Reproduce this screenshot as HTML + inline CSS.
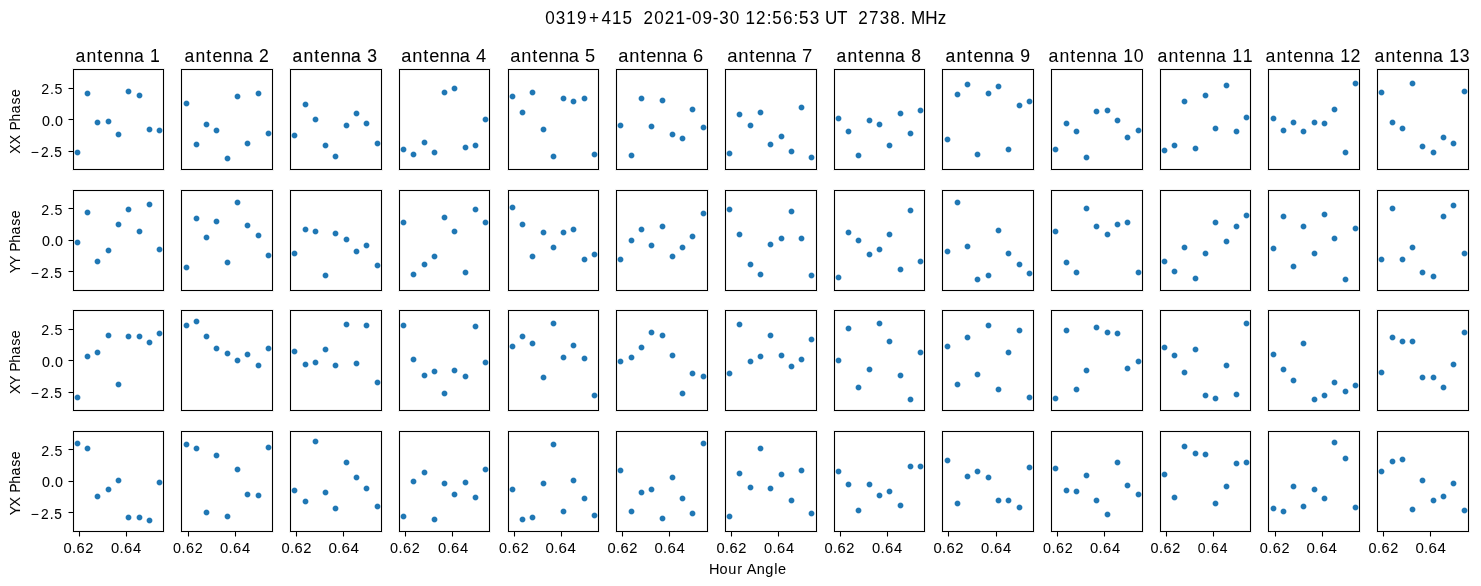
<!DOCTYPE html>
<html><head><meta charset="utf-8"><title>0319+415 phases</title><style>html,body{margin:0;padding:0;background:#fff;overflow:hidden;}svg{display:block;will-change:transform;}text{font-family:"Liberation Sans",sans-serif;fill:#000;white-space:pre;}.c{shape-rendering:crispEdges;}</style></head><body>
<svg width="1481" height="586" viewBox="0 0 1481 586">
<rect x="0" y="0" width="1481" height="586" fill="#fff"/>
<defs><g id="d" fill="#1f77b4"><rect x="-1.5" y="-2.5" width="3" height="5"/><rect x="-2.5" y="-1.5" width="1" height="3"/><rect x="1.5" y="-1.5" width="1" height="3"/><rect x="-2.5" y="-2.5" width="1" height="1" fill-opacity="0.536"/><rect x="-2.5" y="1.5" width="1" height="1" fill-opacity="0.536"/><rect x="1.5" y="-2.5" width="1" height="1" fill-opacity="0.536"/><rect x="1.5" y="1.5" width="1" height="1" fill-opacity="0.536"/><rect x="-1.5" y="-3.5" width="1" height="1" fill-opacity="0.219"/><rect x="-3.5" y="-1.5" width="1" height="1" fill-opacity="0.219"/><rect x="-1.5" y="2.5" width="1" height="1" fill-opacity="0.219"/><rect x="2.5" y="-1.5" width="1" height="1" fill-opacity="0.219"/><rect x="0.5" y="-3.5" width="1" height="1" fill-opacity="0.219"/><rect x="-3.5" y="0.5" width="1" height="1" fill-opacity="0.219"/><rect x="0.5" y="2.5" width="1" height="1" fill-opacity="0.219"/><rect x="2.5" y="0.5" width="1" height="1" fill-opacity="0.219"/><rect x="-0.5" y="-3.5" width="1" height="1" fill-opacity="0.366"/><rect x="-3.5" y="-0.5" width="1" height="1" fill-opacity="0.366"/><rect x="-0.5" y="2.5" width="1" height="1" fill-opacity="0.366"/><rect x="2.5" y="-0.5" width="1" height="1" fill-opacity="0.366"/></g></defs>
<g class="c" fill="#000" fill-opacity="0.055"><rect x="72" y="68" width="93" height="1"/><rect x="74" y="70" width="89" height="1"/><rect x="72" y="170" width="93" height="1"/><rect x="74" y="168" width="89" height="1"/><rect x="72" y="69" width="1" height="101"/><rect x="74" y="71" width="1" height="97"/><rect x="164" y="69" width="1" height="101"/><rect x="162" y="71" width="1" height="97"/><rect x="180" y="68" width="94" height="1"/><rect x="182" y="70" width="90" height="1"/><rect x="180" y="170" width="94" height="1"/><rect x="182" y="168" width="90" height="1"/><rect x="180" y="69" width="1" height="101"/><rect x="182" y="71" width="1" height="97"/><rect x="273" y="69" width="1" height="101"/><rect x="271" y="71" width="1" height="97"/><rect x="289" y="68" width="94" height="1"/><rect x="291" y="70" width="90" height="1"/><rect x="289" y="170" width="94" height="1"/><rect x="291" y="168" width="90" height="1"/><rect x="289" y="69" width="1" height="101"/><rect x="291" y="71" width="1" height="97"/><rect x="382" y="69" width="1" height="101"/><rect x="380" y="71" width="1" height="97"/><rect x="398" y="68" width="93" height="1"/><rect x="400" y="70" width="89" height="1"/><rect x="398" y="170" width="93" height="1"/><rect x="400" y="168" width="89" height="1"/><rect x="398" y="69" width="1" height="101"/><rect x="400" y="71" width="1" height="97"/><rect x="490" y="69" width="1" height="101"/><rect x="488" y="71" width="1" height="97"/><rect x="507" y="68" width="93" height="1"/><rect x="509" y="70" width="89" height="1"/><rect x="507" y="170" width="93" height="1"/><rect x="509" y="168" width="89" height="1"/><rect x="507" y="69" width="1" height="101"/><rect x="509" y="71" width="1" height="97"/><rect x="599" y="69" width="1" height="101"/><rect x="597" y="71" width="1" height="97"/><rect x="615" y="68" width="94" height="1"/><rect x="617" y="70" width="90" height="1"/><rect x="615" y="170" width="94" height="1"/><rect x="617" y="168" width="90" height="1"/><rect x="615" y="69" width="1" height="101"/><rect x="617" y="71" width="1" height="97"/><rect x="708" y="69" width="1" height="101"/><rect x="706" y="71" width="1" height="97"/><rect x="724" y="68" width="94" height="1"/><rect x="726" y="70" width="90" height="1"/><rect x="724" y="170" width="94" height="1"/><rect x="726" y="168" width="90" height="1"/><rect x="724" y="69" width="1" height="101"/><rect x="726" y="71" width="1" height="97"/><rect x="817" y="69" width="1" height="101"/><rect x="815" y="71" width="1" height="97"/><rect x="833" y="68" width="93" height="1"/><rect x="835" y="70" width="89" height="1"/><rect x="833" y="170" width="93" height="1"/><rect x="835" y="168" width="89" height="1"/><rect x="833" y="69" width="1" height="101"/><rect x="835" y="71" width="1" height="97"/><rect x="925" y="69" width="1" height="101"/><rect x="923" y="71" width="1" height="97"/><rect x="941" y="68" width="94" height="1"/><rect x="943" y="70" width="90" height="1"/><rect x="941" y="170" width="94" height="1"/><rect x="943" y="168" width="90" height="1"/><rect x="941" y="69" width="1" height="101"/><rect x="943" y="71" width="1" height="97"/><rect x="1034" y="69" width="1" height="101"/><rect x="1032" y="71" width="1" height="97"/><rect x="1050" y="68" width="94" height="1"/><rect x="1052" y="70" width="90" height="1"/><rect x="1050" y="170" width="94" height="1"/><rect x="1052" y="168" width="90" height="1"/><rect x="1050" y="69" width="1" height="101"/><rect x="1052" y="71" width="1" height="97"/><rect x="1143" y="69" width="1" height="101"/><rect x="1141" y="71" width="1" height="97"/><rect x="1159" y="68" width="93" height="1"/><rect x="1161" y="70" width="89" height="1"/><rect x="1159" y="170" width="93" height="1"/><rect x="1161" y="168" width="89" height="1"/><rect x="1159" y="69" width="1" height="101"/><rect x="1161" y="71" width="1" height="97"/><rect x="1251" y="69" width="1" height="101"/><rect x="1249" y="71" width="1" height="97"/><rect x="1267" y="68" width="94" height="1"/><rect x="1269" y="70" width="90" height="1"/><rect x="1267" y="170" width="94" height="1"/><rect x="1269" y="168" width="90" height="1"/><rect x="1267" y="69" width="1" height="101"/><rect x="1269" y="71" width="1" height="97"/><rect x="1360" y="69" width="1" height="101"/><rect x="1358" y="71" width="1" height="97"/><rect x="1376" y="68" width="94" height="1"/><rect x="1378" y="70" width="90" height="1"/><rect x="1376" y="170" width="94" height="1"/><rect x="1378" y="168" width="90" height="1"/><rect x="1376" y="69" width="1" height="101"/><rect x="1378" y="71" width="1" height="97"/><rect x="1469" y="69" width="1" height="101"/><rect x="1467" y="71" width="1" height="97"/><rect x="72" y="189" width="93" height="1"/><rect x="74" y="191" width="89" height="1"/><rect x="72" y="291" width="93" height="1"/><rect x="74" y="289" width="89" height="1"/><rect x="72" y="190" width="1" height="101"/><rect x="74" y="192" width="1" height="97"/><rect x="164" y="190" width="1" height="101"/><rect x="162" y="192" width="1" height="97"/><rect x="180" y="189" width="94" height="1"/><rect x="182" y="191" width="90" height="1"/><rect x="180" y="291" width="94" height="1"/><rect x="182" y="289" width="90" height="1"/><rect x="180" y="190" width="1" height="101"/><rect x="182" y="192" width="1" height="97"/><rect x="273" y="190" width="1" height="101"/><rect x="271" y="192" width="1" height="97"/><rect x="289" y="189" width="94" height="1"/><rect x="291" y="191" width="90" height="1"/><rect x="289" y="291" width="94" height="1"/><rect x="291" y="289" width="90" height="1"/><rect x="289" y="190" width="1" height="101"/><rect x="291" y="192" width="1" height="97"/><rect x="382" y="190" width="1" height="101"/><rect x="380" y="192" width="1" height="97"/><rect x="398" y="189" width="93" height="1"/><rect x="400" y="191" width="89" height="1"/><rect x="398" y="291" width="93" height="1"/><rect x="400" y="289" width="89" height="1"/><rect x="398" y="190" width="1" height="101"/><rect x="400" y="192" width="1" height="97"/><rect x="490" y="190" width="1" height="101"/><rect x="488" y="192" width="1" height="97"/><rect x="507" y="189" width="93" height="1"/><rect x="509" y="191" width="89" height="1"/><rect x="507" y="291" width="93" height="1"/><rect x="509" y="289" width="89" height="1"/><rect x="507" y="190" width="1" height="101"/><rect x="509" y="192" width="1" height="97"/><rect x="599" y="190" width="1" height="101"/><rect x="597" y="192" width="1" height="97"/><rect x="615" y="189" width="94" height="1"/><rect x="617" y="191" width="90" height="1"/><rect x="615" y="291" width="94" height="1"/><rect x="617" y="289" width="90" height="1"/><rect x="615" y="190" width="1" height="101"/><rect x="617" y="192" width="1" height="97"/><rect x="708" y="190" width="1" height="101"/><rect x="706" y="192" width="1" height="97"/><rect x="724" y="189" width="94" height="1"/><rect x="726" y="191" width="90" height="1"/><rect x="724" y="291" width="94" height="1"/><rect x="726" y="289" width="90" height="1"/><rect x="724" y="190" width="1" height="101"/><rect x="726" y="192" width="1" height="97"/><rect x="817" y="190" width="1" height="101"/><rect x="815" y="192" width="1" height="97"/><rect x="833" y="189" width="93" height="1"/><rect x="835" y="191" width="89" height="1"/><rect x="833" y="291" width="93" height="1"/><rect x="835" y="289" width="89" height="1"/><rect x="833" y="190" width="1" height="101"/><rect x="835" y="192" width="1" height="97"/><rect x="925" y="190" width="1" height="101"/><rect x="923" y="192" width="1" height="97"/><rect x="941" y="189" width="94" height="1"/><rect x="943" y="191" width="90" height="1"/><rect x="941" y="291" width="94" height="1"/><rect x="943" y="289" width="90" height="1"/><rect x="941" y="190" width="1" height="101"/><rect x="943" y="192" width="1" height="97"/><rect x="1034" y="190" width="1" height="101"/><rect x="1032" y="192" width="1" height="97"/><rect x="1050" y="189" width="94" height="1"/><rect x="1052" y="191" width="90" height="1"/><rect x="1050" y="291" width="94" height="1"/><rect x="1052" y="289" width="90" height="1"/><rect x="1050" y="190" width="1" height="101"/><rect x="1052" y="192" width="1" height="97"/><rect x="1143" y="190" width="1" height="101"/><rect x="1141" y="192" width="1" height="97"/><rect x="1159" y="189" width="93" height="1"/><rect x="1161" y="191" width="89" height="1"/><rect x="1159" y="291" width="93" height="1"/><rect x="1161" y="289" width="89" height="1"/><rect x="1159" y="190" width="1" height="101"/><rect x="1161" y="192" width="1" height="97"/><rect x="1251" y="190" width="1" height="101"/><rect x="1249" y="192" width="1" height="97"/><rect x="1267" y="189" width="94" height="1"/><rect x="1269" y="191" width="90" height="1"/><rect x="1267" y="291" width="94" height="1"/><rect x="1269" y="289" width="90" height="1"/><rect x="1267" y="190" width="1" height="101"/><rect x="1269" y="192" width="1" height="97"/><rect x="1360" y="190" width="1" height="101"/><rect x="1358" y="192" width="1" height="97"/><rect x="1376" y="189" width="94" height="1"/><rect x="1378" y="191" width="90" height="1"/><rect x="1376" y="291" width="94" height="1"/><rect x="1378" y="289" width="90" height="1"/><rect x="1376" y="190" width="1" height="101"/><rect x="1378" y="192" width="1" height="97"/><rect x="1469" y="190" width="1" height="101"/><rect x="1467" y="192" width="1" height="97"/><rect x="72" y="309" width="93" height="1"/><rect x="74" y="311" width="89" height="1"/><rect x="72" y="411" width="93" height="1"/><rect x="74" y="409" width="89" height="1"/><rect x="72" y="310" width="1" height="101"/><rect x="74" y="312" width="1" height="97"/><rect x="164" y="310" width="1" height="101"/><rect x="162" y="312" width="1" height="97"/><rect x="180" y="309" width="94" height="1"/><rect x="182" y="311" width="90" height="1"/><rect x="180" y="411" width="94" height="1"/><rect x="182" y="409" width="90" height="1"/><rect x="180" y="310" width="1" height="101"/><rect x="182" y="312" width="1" height="97"/><rect x="273" y="310" width="1" height="101"/><rect x="271" y="312" width="1" height="97"/><rect x="289" y="309" width="94" height="1"/><rect x="291" y="311" width="90" height="1"/><rect x="289" y="411" width="94" height="1"/><rect x="291" y="409" width="90" height="1"/><rect x="289" y="310" width="1" height="101"/><rect x="291" y="312" width="1" height="97"/><rect x="382" y="310" width="1" height="101"/><rect x="380" y="312" width="1" height="97"/><rect x="398" y="309" width="93" height="1"/><rect x="400" y="311" width="89" height="1"/><rect x="398" y="411" width="93" height="1"/><rect x="400" y="409" width="89" height="1"/><rect x="398" y="310" width="1" height="101"/><rect x="400" y="312" width="1" height="97"/><rect x="490" y="310" width="1" height="101"/><rect x="488" y="312" width="1" height="97"/><rect x="507" y="309" width="93" height="1"/><rect x="509" y="311" width="89" height="1"/><rect x="507" y="411" width="93" height="1"/><rect x="509" y="409" width="89" height="1"/><rect x="507" y="310" width="1" height="101"/><rect x="509" y="312" width="1" height="97"/><rect x="599" y="310" width="1" height="101"/><rect x="597" y="312" width="1" height="97"/><rect x="615" y="309" width="94" height="1"/><rect x="617" y="311" width="90" height="1"/><rect x="615" y="411" width="94" height="1"/><rect x="617" y="409" width="90" height="1"/><rect x="615" y="310" width="1" height="101"/><rect x="617" y="312" width="1" height="97"/><rect x="708" y="310" width="1" height="101"/><rect x="706" y="312" width="1" height="97"/><rect x="724" y="309" width="94" height="1"/><rect x="726" y="311" width="90" height="1"/><rect x="724" y="411" width="94" height="1"/><rect x="726" y="409" width="90" height="1"/><rect x="724" y="310" width="1" height="101"/><rect x="726" y="312" width="1" height="97"/><rect x="817" y="310" width="1" height="101"/><rect x="815" y="312" width="1" height="97"/><rect x="833" y="309" width="93" height="1"/><rect x="835" y="311" width="89" height="1"/><rect x="833" y="411" width="93" height="1"/><rect x="835" y="409" width="89" height="1"/><rect x="833" y="310" width="1" height="101"/><rect x="835" y="312" width="1" height="97"/><rect x="925" y="310" width="1" height="101"/><rect x="923" y="312" width="1" height="97"/><rect x="941" y="309" width="94" height="1"/><rect x="943" y="311" width="90" height="1"/><rect x="941" y="411" width="94" height="1"/><rect x="943" y="409" width="90" height="1"/><rect x="941" y="310" width="1" height="101"/><rect x="943" y="312" width="1" height="97"/><rect x="1034" y="310" width="1" height="101"/><rect x="1032" y="312" width="1" height="97"/><rect x="1050" y="309" width="94" height="1"/><rect x="1052" y="311" width="90" height="1"/><rect x="1050" y="411" width="94" height="1"/><rect x="1052" y="409" width="90" height="1"/><rect x="1050" y="310" width="1" height="101"/><rect x="1052" y="312" width="1" height="97"/><rect x="1143" y="310" width="1" height="101"/><rect x="1141" y="312" width="1" height="97"/><rect x="1159" y="309" width="93" height="1"/><rect x="1161" y="311" width="89" height="1"/><rect x="1159" y="411" width="93" height="1"/><rect x="1161" y="409" width="89" height="1"/><rect x="1159" y="310" width="1" height="101"/><rect x="1161" y="312" width="1" height="97"/><rect x="1251" y="310" width="1" height="101"/><rect x="1249" y="312" width="1" height="97"/><rect x="1267" y="309" width="94" height="1"/><rect x="1269" y="311" width="90" height="1"/><rect x="1267" y="411" width="94" height="1"/><rect x="1269" y="409" width="90" height="1"/><rect x="1267" y="310" width="1" height="101"/><rect x="1269" y="312" width="1" height="97"/><rect x="1360" y="310" width="1" height="101"/><rect x="1358" y="312" width="1" height="97"/><rect x="1376" y="309" width="94" height="1"/><rect x="1378" y="311" width="90" height="1"/><rect x="1376" y="411" width="94" height="1"/><rect x="1378" y="409" width="90" height="1"/><rect x="1376" y="310" width="1" height="101"/><rect x="1378" y="312" width="1" height="97"/><rect x="1469" y="310" width="1" height="101"/><rect x="1467" y="312" width="1" height="97"/><rect x="72" y="430" width="93" height="1"/><rect x="74" y="432" width="89" height="1"/><rect x="72" y="532" width="93" height="1"/><rect x="74" y="530" width="89" height="1"/><rect x="72" y="431" width="1" height="101"/><rect x="74" y="433" width="1" height="97"/><rect x="164" y="431" width="1" height="101"/><rect x="162" y="433" width="1" height="97"/><rect x="180" y="430" width="94" height="1"/><rect x="182" y="432" width="90" height="1"/><rect x="180" y="532" width="94" height="1"/><rect x="182" y="530" width="90" height="1"/><rect x="180" y="431" width="1" height="101"/><rect x="182" y="433" width="1" height="97"/><rect x="273" y="431" width="1" height="101"/><rect x="271" y="433" width="1" height="97"/><rect x="289" y="430" width="94" height="1"/><rect x="291" y="432" width="90" height="1"/><rect x="289" y="532" width="94" height="1"/><rect x="291" y="530" width="90" height="1"/><rect x="289" y="431" width="1" height="101"/><rect x="291" y="433" width="1" height="97"/><rect x="382" y="431" width="1" height="101"/><rect x="380" y="433" width="1" height="97"/><rect x="398" y="430" width="93" height="1"/><rect x="400" y="432" width="89" height="1"/><rect x="398" y="532" width="93" height="1"/><rect x="400" y="530" width="89" height="1"/><rect x="398" y="431" width="1" height="101"/><rect x="400" y="433" width="1" height="97"/><rect x="490" y="431" width="1" height="101"/><rect x="488" y="433" width="1" height="97"/><rect x="507" y="430" width="93" height="1"/><rect x="509" y="432" width="89" height="1"/><rect x="507" y="532" width="93" height="1"/><rect x="509" y="530" width="89" height="1"/><rect x="507" y="431" width="1" height="101"/><rect x="509" y="433" width="1" height="97"/><rect x="599" y="431" width="1" height="101"/><rect x="597" y="433" width="1" height="97"/><rect x="615" y="430" width="94" height="1"/><rect x="617" y="432" width="90" height="1"/><rect x="615" y="532" width="94" height="1"/><rect x="617" y="530" width="90" height="1"/><rect x="615" y="431" width="1" height="101"/><rect x="617" y="433" width="1" height="97"/><rect x="708" y="431" width="1" height="101"/><rect x="706" y="433" width="1" height="97"/><rect x="724" y="430" width="94" height="1"/><rect x="726" y="432" width="90" height="1"/><rect x="724" y="532" width="94" height="1"/><rect x="726" y="530" width="90" height="1"/><rect x="724" y="431" width="1" height="101"/><rect x="726" y="433" width="1" height="97"/><rect x="817" y="431" width="1" height="101"/><rect x="815" y="433" width="1" height="97"/><rect x="833" y="430" width="93" height="1"/><rect x="835" y="432" width="89" height="1"/><rect x="833" y="532" width="93" height="1"/><rect x="835" y="530" width="89" height="1"/><rect x="833" y="431" width="1" height="101"/><rect x="835" y="433" width="1" height="97"/><rect x="925" y="431" width="1" height="101"/><rect x="923" y="433" width="1" height="97"/><rect x="941" y="430" width="94" height="1"/><rect x="943" y="432" width="90" height="1"/><rect x="941" y="532" width="94" height="1"/><rect x="943" y="530" width="90" height="1"/><rect x="941" y="431" width="1" height="101"/><rect x="943" y="433" width="1" height="97"/><rect x="1034" y="431" width="1" height="101"/><rect x="1032" y="433" width="1" height="97"/><rect x="1050" y="430" width="94" height="1"/><rect x="1052" y="432" width="90" height="1"/><rect x="1050" y="532" width="94" height="1"/><rect x="1052" y="530" width="90" height="1"/><rect x="1050" y="431" width="1" height="101"/><rect x="1052" y="433" width="1" height="97"/><rect x="1143" y="431" width="1" height="101"/><rect x="1141" y="433" width="1" height="97"/><rect x="1159" y="430" width="93" height="1"/><rect x="1161" y="432" width="89" height="1"/><rect x="1159" y="532" width="93" height="1"/><rect x="1161" y="530" width="89" height="1"/><rect x="1159" y="431" width="1" height="101"/><rect x="1161" y="433" width="1" height="97"/><rect x="1251" y="431" width="1" height="101"/><rect x="1249" y="433" width="1" height="97"/><rect x="1267" y="430" width="94" height="1"/><rect x="1269" y="432" width="90" height="1"/><rect x="1267" y="532" width="94" height="1"/><rect x="1269" y="530" width="90" height="1"/><rect x="1267" y="431" width="1" height="101"/><rect x="1269" y="433" width="1" height="97"/><rect x="1360" y="431" width="1" height="101"/><rect x="1358" y="433" width="1" height="97"/><rect x="1376" y="430" width="94" height="1"/><rect x="1378" y="432" width="90" height="1"/><rect x="1376" y="532" width="94" height="1"/><rect x="1378" y="530" width="90" height="1"/><rect x="1376" y="431" width="1" height="101"/><rect x="1378" y="433" width="1" height="97"/><rect x="1469" y="431" width="1" height="101"/><rect x="1467" y="433" width="1" height="97"/><rect x="69" y="87" width="3" height="1"/><rect x="69" y="89" width="3" height="1"/><rect x="69" y="118" width="3" height="1"/><rect x="69" y="120" width="3" height="1"/><rect x="69" y="150" width="3" height="1"/><rect x="69" y="152" width="3" height="1"/><rect x="69" y="207" width="3" height="1"/><rect x="69" y="209" width="3" height="1"/><rect x="69" y="239" width="3" height="1"/><rect x="69" y="241" width="3" height="1"/><rect x="69" y="270" width="3" height="1"/><rect x="69" y="272" width="3" height="1"/><rect x="69" y="328" width="3" height="1"/><rect x="69" y="330" width="3" height="1"/><rect x="69" y="359" width="3" height="1"/><rect x="69" y="361" width="3" height="1"/><rect x="69" y="391" width="3" height="1"/><rect x="69" y="393" width="3" height="1"/><rect x="69" y="448" width="3" height="1"/><rect x="69" y="450" width="3" height="1"/><rect x="69" y="480" width="3" height="1"/><rect x="69" y="482" width="3" height="1"/><rect x="69" y="511" width="3" height="1"/><rect x="69" y="513" width="3" height="1"/><rect x="78" y="533" width="1" height="3"/><rect x="80" y="533" width="1" height="3"/><rect x="125" y="533" width="1" height="3"/><rect x="127" y="533" width="1" height="3"/><rect x="187" y="533" width="1" height="3"/><rect x="189" y="533" width="1" height="3"/><rect x="234" y="533" width="1" height="3"/><rect x="236" y="533" width="1" height="3"/><rect x="295" y="533" width="1" height="3"/><rect x="297" y="533" width="1" height="3"/><rect x="342" y="533" width="1" height="3"/><rect x="344" y="533" width="1" height="3"/><rect x="404" y="533" width="1" height="3"/><rect x="406" y="533" width="1" height="3"/><rect x="451" y="533" width="1" height="3"/><rect x="453" y="533" width="1" height="3"/><rect x="513" y="533" width="1" height="3"/><rect x="515" y="533" width="1" height="3"/><rect x="560" y="533" width="1" height="3"/><rect x="562" y="533" width="1" height="3"/><rect x="621" y="533" width="1" height="3"/><rect x="623" y="533" width="1" height="3"/><rect x="668" y="533" width="1" height="3"/><rect x="670" y="533" width="1" height="3"/><rect x="730" y="533" width="1" height="3"/><rect x="732" y="533" width="1" height="3"/><rect x="777" y="533" width="1" height="3"/><rect x="779" y="533" width="1" height="3"/><rect x="839" y="533" width="1" height="3"/><rect x="841" y="533" width="1" height="3"/><rect x="886" y="533" width="1" height="3"/><rect x="888" y="533" width="1" height="3"/><rect x="947" y="533" width="1" height="3"/><rect x="949" y="533" width="1" height="3"/><rect x="995" y="533" width="1" height="3"/><rect x="997" y="533" width="1" height="3"/><rect x="1056" y="533" width="1" height="3"/><rect x="1058" y="533" width="1" height="3"/><rect x="1103" y="533" width="1" height="3"/><rect x="1105" y="533" width="1" height="3"/><rect x="1165" y="533" width="1" height="3"/><rect x="1167" y="533" width="1" height="3"/><rect x="1212" y="533" width="1" height="3"/><rect x="1214" y="533" width="1" height="3"/><rect x="1274" y="533" width="1" height="3"/><rect x="1276" y="533" width="1" height="3"/><rect x="1321" y="533" width="1" height="3"/><rect x="1323" y="533" width="1" height="3"/><rect x="1382" y="533" width="1" height="3"/><rect x="1384" y="533" width="1" height="3"/><rect x="1429" y="533" width="1" height="3"/><rect x="1431" y="533" width="1" height="3"/></g>
<g class="c" fill="#000" fill-opacity="0.5"><rect x="68" y="88" width="1" height="1"/><rect x="68" y="119" width="1" height="1"/><rect x="68" y="151" width="1" height="1"/><rect x="68" y="208" width="1" height="1"/><rect x="68" y="240" width="1" height="1"/><rect x="68" y="271" width="1" height="1"/><rect x="68" y="329" width="1" height="1"/><rect x="68" y="360" width="1" height="1"/><rect x="68" y="392" width="1" height="1"/><rect x="68" y="449" width="1" height="1"/><rect x="68" y="481" width="1" height="1"/><rect x="68" y="512" width="1" height="1"/><rect x="79" y="536" width="1" height="1"/><rect x="126" y="536" width="1" height="1"/><rect x="188" y="536" width="1" height="1"/><rect x="235" y="536" width="1" height="1"/><rect x="296" y="536" width="1" height="1"/><rect x="343" y="536" width="1" height="1"/><rect x="405" y="536" width="1" height="1"/><rect x="452" y="536" width="1" height="1"/><rect x="514" y="536" width="1" height="1"/><rect x="561" y="536" width="1" height="1"/><rect x="622" y="536" width="1" height="1"/><rect x="669" y="536" width="1" height="1"/><rect x="731" y="536" width="1" height="1"/><rect x="778" y="536" width="1" height="1"/><rect x="840" y="536" width="1" height="1"/><rect x="887" y="536" width="1" height="1"/><rect x="948" y="536" width="1" height="1"/><rect x="996" y="536" width="1" height="1"/><rect x="1057" y="536" width="1" height="1"/><rect x="1104" y="536" width="1" height="1"/><rect x="1166" y="536" width="1" height="1"/><rect x="1213" y="536" width="1" height="1"/><rect x="1275" y="536" width="1" height="1"/><rect x="1322" y="536" width="1" height="1"/><rect x="1383" y="536" width="1" height="1"/><rect x="1430" y="536" width="1" height="1"/></g>
<g class="c" fill="#000"><rect x="73" y="69" width="91" height="1"/><rect x="73" y="169" width="91" height="1"/><rect x="73" y="70" width="1" height="99"/><rect x="163" y="70" width="1" height="99"/><rect x="181" y="69" width="92" height="1"/><rect x="181" y="169" width="92" height="1"/><rect x="181" y="70" width="1" height="99"/><rect x="272" y="70" width="1" height="99"/><rect x="290" y="69" width="92" height="1"/><rect x="290" y="169" width="92" height="1"/><rect x="290" y="70" width="1" height="99"/><rect x="381" y="70" width="1" height="99"/><rect x="399" y="69" width="91" height="1"/><rect x="399" y="169" width="91" height="1"/><rect x="399" y="70" width="1" height="99"/><rect x="489" y="70" width="1" height="99"/><rect x="508" y="69" width="91" height="1"/><rect x="508" y="169" width="91" height="1"/><rect x="508" y="70" width="1" height="99"/><rect x="598" y="70" width="1" height="99"/><rect x="616" y="69" width="92" height="1"/><rect x="616" y="169" width="92" height="1"/><rect x="616" y="70" width="1" height="99"/><rect x="707" y="70" width="1" height="99"/><rect x="725" y="69" width="92" height="1"/><rect x="725" y="169" width="92" height="1"/><rect x="725" y="70" width="1" height="99"/><rect x="816" y="70" width="1" height="99"/><rect x="834" y="69" width="91" height="1"/><rect x="834" y="169" width="91" height="1"/><rect x="834" y="70" width="1" height="99"/><rect x="924" y="70" width="1" height="99"/><rect x="942" y="69" width="92" height="1"/><rect x="942" y="169" width="92" height="1"/><rect x="942" y="70" width="1" height="99"/><rect x="1033" y="70" width="1" height="99"/><rect x="1051" y="69" width="92" height="1"/><rect x="1051" y="169" width="92" height="1"/><rect x="1051" y="70" width="1" height="99"/><rect x="1142" y="70" width="1" height="99"/><rect x="1160" y="69" width="91" height="1"/><rect x="1160" y="169" width="91" height="1"/><rect x="1160" y="70" width="1" height="99"/><rect x="1250" y="70" width="1" height="99"/><rect x="1268" y="69" width="92" height="1"/><rect x="1268" y="169" width="92" height="1"/><rect x="1268" y="70" width="1" height="99"/><rect x="1359" y="70" width="1" height="99"/><rect x="1377" y="69" width="92" height="1"/><rect x="1377" y="169" width="92" height="1"/><rect x="1377" y="70" width="1" height="99"/><rect x="1468" y="70" width="1" height="99"/><rect x="73" y="190" width="91" height="1"/><rect x="73" y="290" width="91" height="1"/><rect x="73" y="191" width="1" height="99"/><rect x="163" y="191" width="1" height="99"/><rect x="181" y="190" width="92" height="1"/><rect x="181" y="290" width="92" height="1"/><rect x="181" y="191" width="1" height="99"/><rect x="272" y="191" width="1" height="99"/><rect x="290" y="190" width="92" height="1"/><rect x="290" y="290" width="92" height="1"/><rect x="290" y="191" width="1" height="99"/><rect x="381" y="191" width="1" height="99"/><rect x="399" y="190" width="91" height="1"/><rect x="399" y="290" width="91" height="1"/><rect x="399" y="191" width="1" height="99"/><rect x="489" y="191" width="1" height="99"/><rect x="508" y="190" width="91" height="1"/><rect x="508" y="290" width="91" height="1"/><rect x="508" y="191" width="1" height="99"/><rect x="598" y="191" width="1" height="99"/><rect x="616" y="190" width="92" height="1"/><rect x="616" y="290" width="92" height="1"/><rect x="616" y="191" width="1" height="99"/><rect x="707" y="191" width="1" height="99"/><rect x="725" y="190" width="92" height="1"/><rect x="725" y="290" width="92" height="1"/><rect x="725" y="191" width="1" height="99"/><rect x="816" y="191" width="1" height="99"/><rect x="834" y="190" width="91" height="1"/><rect x="834" y="290" width="91" height="1"/><rect x="834" y="191" width="1" height="99"/><rect x="924" y="191" width="1" height="99"/><rect x="942" y="190" width="92" height="1"/><rect x="942" y="290" width="92" height="1"/><rect x="942" y="191" width="1" height="99"/><rect x="1033" y="191" width="1" height="99"/><rect x="1051" y="190" width="92" height="1"/><rect x="1051" y="290" width="92" height="1"/><rect x="1051" y="191" width="1" height="99"/><rect x="1142" y="191" width="1" height="99"/><rect x="1160" y="190" width="91" height="1"/><rect x="1160" y="290" width="91" height="1"/><rect x="1160" y="191" width="1" height="99"/><rect x="1250" y="191" width="1" height="99"/><rect x="1268" y="190" width="92" height="1"/><rect x="1268" y="290" width="92" height="1"/><rect x="1268" y="191" width="1" height="99"/><rect x="1359" y="191" width="1" height="99"/><rect x="1377" y="190" width="92" height="1"/><rect x="1377" y="290" width="92" height="1"/><rect x="1377" y="191" width="1" height="99"/><rect x="1468" y="191" width="1" height="99"/><rect x="73" y="310" width="91" height="1"/><rect x="73" y="410" width="91" height="1"/><rect x="73" y="311" width="1" height="99"/><rect x="163" y="311" width="1" height="99"/><rect x="181" y="310" width="92" height="1"/><rect x="181" y="410" width="92" height="1"/><rect x="181" y="311" width="1" height="99"/><rect x="272" y="311" width="1" height="99"/><rect x="290" y="310" width="92" height="1"/><rect x="290" y="410" width="92" height="1"/><rect x="290" y="311" width="1" height="99"/><rect x="381" y="311" width="1" height="99"/><rect x="399" y="310" width="91" height="1"/><rect x="399" y="410" width="91" height="1"/><rect x="399" y="311" width="1" height="99"/><rect x="489" y="311" width="1" height="99"/><rect x="508" y="310" width="91" height="1"/><rect x="508" y="410" width="91" height="1"/><rect x="508" y="311" width="1" height="99"/><rect x="598" y="311" width="1" height="99"/><rect x="616" y="310" width="92" height="1"/><rect x="616" y="410" width="92" height="1"/><rect x="616" y="311" width="1" height="99"/><rect x="707" y="311" width="1" height="99"/><rect x="725" y="310" width="92" height="1"/><rect x="725" y="410" width="92" height="1"/><rect x="725" y="311" width="1" height="99"/><rect x="816" y="311" width="1" height="99"/><rect x="834" y="310" width="91" height="1"/><rect x="834" y="410" width="91" height="1"/><rect x="834" y="311" width="1" height="99"/><rect x="924" y="311" width="1" height="99"/><rect x="942" y="310" width="92" height="1"/><rect x="942" y="410" width="92" height="1"/><rect x="942" y="311" width="1" height="99"/><rect x="1033" y="311" width="1" height="99"/><rect x="1051" y="310" width="92" height="1"/><rect x="1051" y="410" width="92" height="1"/><rect x="1051" y="311" width="1" height="99"/><rect x="1142" y="311" width="1" height="99"/><rect x="1160" y="310" width="91" height="1"/><rect x="1160" y="410" width="91" height="1"/><rect x="1160" y="311" width="1" height="99"/><rect x="1250" y="311" width="1" height="99"/><rect x="1268" y="310" width="92" height="1"/><rect x="1268" y="410" width="92" height="1"/><rect x="1268" y="311" width="1" height="99"/><rect x="1359" y="311" width="1" height="99"/><rect x="1377" y="310" width="92" height="1"/><rect x="1377" y="410" width="92" height="1"/><rect x="1377" y="311" width="1" height="99"/><rect x="1468" y="311" width="1" height="99"/><rect x="73" y="431" width="91" height="1"/><rect x="73" y="531" width="91" height="1"/><rect x="73" y="432" width="1" height="99"/><rect x="163" y="432" width="1" height="99"/><rect x="181" y="431" width="92" height="1"/><rect x="181" y="531" width="92" height="1"/><rect x="181" y="432" width="1" height="99"/><rect x="272" y="432" width="1" height="99"/><rect x="290" y="431" width="92" height="1"/><rect x="290" y="531" width="92" height="1"/><rect x="290" y="432" width="1" height="99"/><rect x="381" y="432" width="1" height="99"/><rect x="399" y="431" width="91" height="1"/><rect x="399" y="531" width="91" height="1"/><rect x="399" y="432" width="1" height="99"/><rect x="489" y="432" width="1" height="99"/><rect x="508" y="431" width="91" height="1"/><rect x="508" y="531" width="91" height="1"/><rect x="508" y="432" width="1" height="99"/><rect x="598" y="432" width="1" height="99"/><rect x="616" y="431" width="92" height="1"/><rect x="616" y="531" width="92" height="1"/><rect x="616" y="432" width="1" height="99"/><rect x="707" y="432" width="1" height="99"/><rect x="725" y="431" width="92" height="1"/><rect x="725" y="531" width="92" height="1"/><rect x="725" y="432" width="1" height="99"/><rect x="816" y="432" width="1" height="99"/><rect x="834" y="431" width="91" height="1"/><rect x="834" y="531" width="91" height="1"/><rect x="834" y="432" width="1" height="99"/><rect x="924" y="432" width="1" height="99"/><rect x="942" y="431" width="92" height="1"/><rect x="942" y="531" width="92" height="1"/><rect x="942" y="432" width="1" height="99"/><rect x="1033" y="432" width="1" height="99"/><rect x="1051" y="431" width="92" height="1"/><rect x="1051" y="531" width="92" height="1"/><rect x="1051" y="432" width="1" height="99"/><rect x="1142" y="432" width="1" height="99"/><rect x="1160" y="431" width="91" height="1"/><rect x="1160" y="531" width="91" height="1"/><rect x="1160" y="432" width="1" height="99"/><rect x="1250" y="432" width="1" height="99"/><rect x="1268" y="431" width="92" height="1"/><rect x="1268" y="531" width="92" height="1"/><rect x="1268" y="432" width="1" height="99"/><rect x="1359" y="432" width="1" height="99"/><rect x="1377" y="431" width="92" height="1"/><rect x="1377" y="531" width="92" height="1"/><rect x="1377" y="432" width="1" height="99"/><rect x="1468" y="432" width="1" height="99"/><rect x="69" y="88" width="4" height="1"/><rect x="69" y="119" width="4" height="1"/><rect x="69" y="151" width="4" height="1"/><rect x="69" y="208" width="4" height="1"/><rect x="69" y="240" width="4" height="1"/><rect x="69" y="271" width="4" height="1"/><rect x="69" y="329" width="4" height="1"/><rect x="69" y="360" width="4" height="1"/><rect x="69" y="392" width="4" height="1"/><rect x="69" y="449" width="4" height="1"/><rect x="69" y="481" width="4" height="1"/><rect x="69" y="512" width="4" height="1"/><rect x="79" y="532" width="1" height="4"/><rect x="126" y="532" width="1" height="4"/><rect x="188" y="532" width="1" height="4"/><rect x="235" y="532" width="1" height="4"/><rect x="296" y="532" width="1" height="4"/><rect x="343" y="532" width="1" height="4"/><rect x="405" y="532" width="1" height="4"/><rect x="452" y="532" width="1" height="4"/><rect x="514" y="532" width="1" height="4"/><rect x="561" y="532" width="1" height="4"/><rect x="622" y="532" width="1" height="4"/><rect x="669" y="532" width="1" height="4"/><rect x="731" y="532" width="1" height="4"/><rect x="778" y="532" width="1" height="4"/><rect x="840" y="532" width="1" height="4"/><rect x="887" y="532" width="1" height="4"/><rect x="948" y="532" width="1" height="4"/><rect x="996" y="532" width="1" height="4"/><rect x="1057" y="532" width="1" height="4"/><rect x="1104" y="532" width="1" height="4"/><rect x="1166" y="532" width="1" height="4"/><rect x="1213" y="532" width="1" height="4"/><rect x="1275" y="532" width="1" height="4"/><rect x="1322" y="532" width="1" height="4"/><rect x="1383" y="532" width="1" height="4"/><rect x="1430" y="532" width="1" height="4"/></g>
<g class="c">
<use href="#d" x="1355.5" y="83.5"/>
<use href="#d" x="1412.5" y="83.5"/>
<use href="#d" x="967.5" y="84.5"/>
<use href="#d" x="1226.5" y="85.5"/>
<use href="#d" x="998.5" y="86.5"/>
<use href="#d" x="454.5" y="88.5"/>
<use href="#d" x="128.5" y="91.5"/>
<use href="#d" x="1464.5" y="91.5"/>
<use href="#d" x="444.5" y="92.5"/>
<use href="#d" x="532.5" y="92.5"/>
<use href="#d" x="1381.5" y="92.5"/>
<use href="#d" x="87.5" y="93.5"/>
<use href="#d" x="258.5" y="93.5"/>
<use href="#d" x="988.5" y="93.5"/>
<use href="#d" x="957.5" y="94.5"/>
<use href="#d" x="139.5" y="95.5"/>
<use href="#d" x="1205.5" y="95.5"/>
<use href="#d" x="237.5" y="96.5"/>
<use href="#d" x="512.5" y="96.5"/>
<use href="#d" x="563.5" y="98.5"/>
<use href="#d" x="584.5" y="98.5"/>
<use href="#d" x="641.5" y="98.5"/>
<use href="#d" x="662.5" y="100.5"/>
<use href="#d" x="573.5" y="101.5"/>
<use href="#d" x="1029.5" y="101.5"/>
<use href="#d" x="1184.5" y="101.5"/>
<use href="#d" x="186.5" y="103.5"/>
<use href="#d" x="305.5" y="104.5"/>
<use href="#d" x="1019.5" y="105.5"/>
<use href="#d" x="801.5" y="107.5"/>
<use href="#d" x="692.5" y="109.5"/>
<use href="#d" x="1334.5" y="109.5"/>
<use href="#d" x="920.5" y="110.5"/>
<use href="#d" x="1107.5" y="110.5"/>
<use href="#d" x="1096.5" y="111.5"/>
<use href="#d" x="522.5" y="112.5"/>
<use href="#d" x="760.5" y="112.5"/>
<use href="#d" x="356.5" y="113.5"/>
<use href="#d" x="900.5" y="113.5"/>
<use href="#d" x="739.5" y="114.5"/>
<use href="#d" x="1246.5" y="117.5"/>
<use href="#d" x="838.5" y="118.5"/>
<use href="#d" x="1273.5" y="118.5"/>
<use href="#d" x="315.5" y="119.5"/>
<use href="#d" x="485.5" y="119.5"/>
<use href="#d" x="869.5" y="120.5"/>
<use href="#d" x="1117.5" y="120.5"/>
<use href="#d" x="108.5" y="121.5"/>
<use href="#d" x="97.5" y="122.5"/>
<use href="#d" x="1293.5" y="122.5"/>
<use href="#d" x="1314.5" y="122.5"/>
<use href="#d" x="1392.5" y="122.5"/>
<use href="#d" x="366.5" y="123.5"/>
<use href="#d" x="1066.5" y="123.5"/>
<use href="#d" x="1324.5" y="123.5"/>
<use href="#d" x="206.5" y="124.5"/>
<use href="#d" x="879.5" y="124.5"/>
<use href="#d" x="346.5" y="125.5"/>
<use href="#d" x="620.5" y="125.5"/>
<use href="#d" x="750.5" y="125.5"/>
<use href="#d" x="651.5" y="126.5"/>
<use href="#d" x="703.5" y="127.5"/>
<use href="#d" x="1215.5" y="128.5"/>
<use href="#d" x="1402.5" y="128.5"/>
<use href="#d" x="149.5" y="129.5"/>
<use href="#d" x="543.5" y="129.5"/>
<use href="#d" x="159.5" y="130.5"/>
<use href="#d" x="216.5" y="130.5"/>
<use href="#d" x="1138.5" y="130.5"/>
<use href="#d" x="1283.5" y="130.5"/>
<use href="#d" x="848.5" y="131.5"/>
<use href="#d" x="1076.5" y="131.5"/>
<use href="#d" x="1236.5" y="131.5"/>
<use href="#d" x="1303.5" y="131.5"/>
<use href="#d" x="268.5" y="133.5"/>
<use href="#d" x="910.5" y="133.5"/>
<use href="#d" x="118.5" y="134.5"/>
<use href="#d" x="672.5" y="134.5"/>
<use href="#d" x="294.5" y="135.5"/>
<use href="#d" x="781.5" y="136.5"/>
<use href="#d" x="1127.5" y="137.5"/>
<use href="#d" x="1443.5" y="137.5"/>
<use href="#d" x="682.5" y="138.5"/>
<use href="#d" x="947.5" y="139.5"/>
<use href="#d" x="424.5" y="142.5"/>
<use href="#d" x="247.5" y="143.5"/>
<use href="#d" x="377.5" y="143.5"/>
<use href="#d" x="1453.5" y="143.5"/>
<use href="#d" x="196.5" y="144.5"/>
<use href="#d" x="770.5" y="144.5"/>
<use href="#d" x="325.5" y="145.5"/>
<use href="#d" x="475.5" y="145.5"/>
<use href="#d" x="889.5" y="145.5"/>
<use href="#d" x="1174.5" y="145.5"/>
<use href="#d" x="1422.5" y="146.5"/>
<use href="#d" x="465.5" y="147.5"/>
<use href="#d" x="1195.5" y="148.5"/>
<use href="#d" x="403.5" y="149.5"/>
<use href="#d" x="1008.5" y="149.5"/>
<use href="#d" x="1055.5" y="149.5"/>
<use href="#d" x="1164.5" y="150.5"/>
<use href="#d" x="791.5" y="151.5"/>
<use href="#d" x="77.5" y="152.5"/>
<use href="#d" x="434.5" y="152.5"/>
<use href="#d" x="1345.5" y="152.5"/>
<use href="#d" x="1433.5" y="152.5"/>
<use href="#d" x="729.5" y="153.5"/>
<use href="#d" x="413.5" y="154.5"/>
<use href="#d" x="594.5" y="154.5"/>
<use href="#d" x="977.5" y="154.5"/>
<use href="#d" x="631.5" y="155.5"/>
<use href="#d" x="858.5" y="155.5"/>
<use href="#d" x="335.5" y="156.5"/>
<use href="#d" x="553.5" y="156.5"/>
<use href="#d" x="811.5" y="157.5"/>
<use href="#d" x="1086.5" y="157.5"/>
<use href="#d" x="227.5" y="158.5"/>
<use href="#d" x="237.5" y="202.5"/>
<use href="#d" x="957.5" y="202.5"/>
<use href="#d" x="149.5" y="204.5"/>
<use href="#d" x="1453.5" y="205.5"/>
<use href="#d" x="512.5" y="207.5"/>
<use href="#d" x="1086.5" y="208.5"/>
<use href="#d" x="1392.5" y="208.5"/>
<use href="#d" x="128.5" y="209.5"/>
<use href="#d" x="475.5" y="209.5"/>
<use href="#d" x="729.5" y="209.5"/>
<use href="#d" x="910.5" y="210.5"/>
<use href="#d" x="791.5" y="211.5"/>
<use href="#d" x="87.5" y="212.5"/>
<use href="#d" x="703.5" y="213.5"/>
<use href="#d" x="1324.5" y="214.5"/>
<use href="#d" x="1246.5" y="215.5"/>
<use href="#d" x="1283.5" y="216.5"/>
<use href="#d" x="1443.5" y="216.5"/>
<use href="#d" x="444.5" y="217.5"/>
<use href="#d" x="196.5" y="218.5"/>
<use href="#d" x="216.5" y="221.5"/>
<use href="#d" x="403.5" y="222.5"/>
<use href="#d" x="485.5" y="222.5"/>
<use href="#d" x="1127.5" y="222.5"/>
<use href="#d" x="1215.5" y="222.5"/>
<use href="#d" x="118.5" y="224.5"/>
<use href="#d" x="522.5" y="224.5"/>
<use href="#d" x="1117.5" y="224.5"/>
<use href="#d" x="247.5" y="225.5"/>
<use href="#d" x="662.5" y="226.5"/>
<use href="#d" x="1096.5" y="226.5"/>
<use href="#d" x="1236.5" y="226.5"/>
<use href="#d" x="1303.5" y="226.5"/>
<use href="#d" x="1355.5" y="228.5"/>
<use href="#d" x="305.5" y="229.5"/>
<use href="#d" x="573.5" y="229.5"/>
<use href="#d" x="641.5" y="229.5"/>
<use href="#d" x="998.5" y="230.5"/>
<use href="#d" x="139.5" y="231.5"/>
<use href="#d" x="315.5" y="231.5"/>
<use href="#d" x="454.5" y="231.5"/>
<use href="#d" x="1055.5" y="231.5"/>
<use href="#d" x="543.5" y="232.5"/>
<use href="#d" x="563.5" y="232.5"/>
<use href="#d" x="848.5" y="232.5"/>
<use href="#d" x="335.5" y="233.5"/>
<use href="#d" x="739.5" y="234.5"/>
<use href="#d" x="889.5" y="234.5"/>
<use href="#d" x="1107.5" y="234.5"/>
<use href="#d" x="258.5" y="235.5"/>
<use href="#d" x="692.5" y="236.5"/>
<use href="#d" x="206.5" y="237.5"/>
<use href="#d" x="781.5" y="238.5"/>
<use href="#d" x="801.5" y="238.5"/>
<use href="#d" x="1334.5" y="238.5"/>
<use href="#d" x="346.5" y="239.5"/>
<use href="#d" x="631.5" y="240.5"/>
<use href="#d" x="858.5" y="240.5"/>
<use href="#d" x="1226.5" y="241.5"/>
<use href="#d" x="77.5" y="242.5"/>
<use href="#d" x="770.5" y="244.5"/>
<use href="#d" x="366.5" y="245.5"/>
<use href="#d" x="651.5" y="245.5"/>
<use href="#d" x="967.5" y="246.5"/>
<use href="#d" x="553.5" y="247.5"/>
<use href="#d" x="682.5" y="247.5"/>
<use href="#d" x="1184.5" y="247.5"/>
<use href="#d" x="1412.5" y="247.5"/>
<use href="#d" x="1273.5" y="248.5"/>
<use href="#d" x="159.5" y="249.5"/>
<use href="#d" x="879.5" y="249.5"/>
<use href="#d" x="108.5" y="250.5"/>
<use href="#d" x="356.5" y="251.5"/>
<use href="#d" x="947.5" y="251.5"/>
<use href="#d" x="294.5" y="253.5"/>
<use href="#d" x="1008.5" y="253.5"/>
<use href="#d" x="1205.5" y="253.5"/>
<use href="#d" x="1314.5" y="253.5"/>
<use href="#d" x="1464.5" y="253.5"/>
<use href="#d" x="594.5" y="254.5"/>
<use href="#d" x="869.5" y="254.5"/>
<use href="#d" x="268.5" y="255.5"/>
<use href="#d" x="434.5" y="256.5"/>
<use href="#d" x="532.5" y="256.5"/>
<use href="#d" x="672.5" y="256.5"/>
<use href="#d" x="584.5" y="259.5"/>
<use href="#d" x="620.5" y="259.5"/>
<use href="#d" x="1381.5" y="259.5"/>
<use href="#d" x="1402.5" y="259.5"/>
<use href="#d" x="97.5" y="261.5"/>
<use href="#d" x="920.5" y="261.5"/>
<use href="#d" x="1164.5" y="261.5"/>
<use href="#d" x="227.5" y="262.5"/>
<use href="#d" x="1066.5" y="262.5"/>
<use href="#d" x="424.5" y="264.5"/>
<use href="#d" x="750.5" y="264.5"/>
<use href="#d" x="1019.5" y="264.5"/>
<use href="#d" x="377.5" y="265.5"/>
<use href="#d" x="1293.5" y="266.5"/>
<use href="#d" x="186.5" y="267.5"/>
<use href="#d" x="900.5" y="269.5"/>
<use href="#d" x="1174.5" y="271.5"/>
<use href="#d" x="465.5" y="272.5"/>
<use href="#d" x="1076.5" y="272.5"/>
<use href="#d" x="1138.5" y="272.5"/>
<use href="#d" x="1422.5" y="272.5"/>
<use href="#d" x="1029.5" y="273.5"/>
<use href="#d" x="413.5" y="274.5"/>
<use href="#d" x="760.5" y="274.5"/>
<use href="#d" x="325.5" y="275.5"/>
<use href="#d" x="811.5" y="275.5"/>
<use href="#d" x="988.5" y="275.5"/>
<use href="#d" x="1433.5" y="276.5"/>
<use href="#d" x="838.5" y="277.5"/>
<use href="#d" x="1195.5" y="278.5"/>
<use href="#d" x="977.5" y="279.5"/>
<use href="#d" x="1345.5" y="279.5"/>
<use href="#d" x="196.5" y="321.5"/>
<use href="#d" x="553.5" y="323.5"/>
<use href="#d" x="879.5" y="323.5"/>
<use href="#d" x="1246.5" y="323.5"/>
<use href="#d" x="346.5" y="324.5"/>
<use href="#d" x="739.5" y="324.5"/>
<use href="#d" x="186.5" y="325.5"/>
<use href="#d" x="366.5" y="325.5"/>
<use href="#d" x="403.5" y="325.5"/>
<use href="#d" x="988.5" y="325.5"/>
<use href="#d" x="475.5" y="326.5"/>
<use href="#d" x="1096.5" y="327.5"/>
<use href="#d" x="848.5" y="328.5"/>
<use href="#d" x="1019.5" y="330.5"/>
<use href="#d" x="1066.5" y="330.5"/>
<use href="#d" x="651.5" y="332.5"/>
<use href="#d" x="1107.5" y="332.5"/>
<use href="#d" x="1464.5" y="332.5"/>
<use href="#d" x="159.5" y="333.5"/>
<use href="#d" x="1117.5" y="333.5"/>
<use href="#d" x="108.5" y="335.5"/>
<use href="#d" x="662.5" y="335.5"/>
<use href="#d" x="770.5" y="335.5"/>
<use href="#d" x="128.5" y="336.5"/>
<use href="#d" x="139.5" y="336.5"/>
<use href="#d" x="206.5" y="336.5"/>
<use href="#d" x="522.5" y="336.5"/>
<use href="#d" x="967.5" y="337.5"/>
<use href="#d" x="1392.5" y="337.5"/>
<use href="#d" x="811.5" y="339.5"/>
<use href="#d" x="889.5" y="341.5"/>
<use href="#d" x="1402.5" y="341.5"/>
<use href="#d" x="1412.5" y="341.5"/>
<use href="#d" x="149.5" y="342.5"/>
<use href="#d" x="532.5" y="343.5"/>
<use href="#d" x="1303.5" y="343.5"/>
<use href="#d" x="573.5" y="345.5"/>
<use href="#d" x="512.5" y="346.5"/>
<use href="#d" x="947.5" y="346.5"/>
<use href="#d" x="641.5" y="347.5"/>
<use href="#d" x="1164.5" y="347.5"/>
<use href="#d" x="216.5" y="348.5"/>
<use href="#d" x="268.5" y="348.5"/>
<use href="#d" x="325.5" y="349.5"/>
<use href="#d" x="1195.5" y="349.5"/>
<use href="#d" x="294.5" y="351.5"/>
<use href="#d" x="97.5" y="352.5"/>
<use href="#d" x="920.5" y="352.5"/>
<use href="#d" x="1008.5" y="352.5"/>
<use href="#d" x="227.5" y="353.5"/>
<use href="#d" x="247.5" y="354.5"/>
<use href="#d" x="1273.5" y="354.5"/>
<use href="#d" x="672.5" y="355.5"/>
<use href="#d" x="781.5" y="355.5"/>
<use href="#d" x="1174.5" y="355.5"/>
<use href="#d" x="87.5" y="356.5"/>
<use href="#d" x="760.5" y="356.5"/>
<use href="#d" x="563.5" y="357.5"/>
<use href="#d" x="631.5" y="357.5"/>
<use href="#d" x="584.5" y="358.5"/>
<use href="#d" x="413.5" y="359.5"/>
<use href="#d" x="801.5" y="359.5"/>
<use href="#d" x="237.5" y="360.5"/>
<use href="#d" x="838.5" y="360.5"/>
<use href="#d" x="620.5" y="361.5"/>
<use href="#d" x="750.5" y="361.5"/>
<use href="#d" x="1138.5" y="361.5"/>
<use href="#d" x="315.5" y="362.5"/>
<use href="#d" x="485.5" y="362.5"/>
<use href="#d" x="356.5" y="363.5"/>
<use href="#d" x="305.5" y="364.5"/>
<use href="#d" x="1453.5" y="364.5"/>
<use href="#d" x="258.5" y="365.5"/>
<use href="#d" x="335.5" y="365.5"/>
<use href="#d" x="1226.5" y="365.5"/>
<use href="#d" x="791.5" y="366.5"/>
<use href="#d" x="1127.5" y="368.5"/>
<use href="#d" x="869.5" y="369.5"/>
<use href="#d" x="1283.5" y="369.5"/>
<use href="#d" x="454.5" y="370.5"/>
<use href="#d" x="1086.5" y="370.5"/>
<use href="#d" x="434.5" y="371.5"/>
<use href="#d" x="1184.5" y="372.5"/>
<use href="#d" x="1381.5" y="372.5"/>
<use href="#d" x="692.5" y="373.5"/>
<use href="#d" x="729.5" y="373.5"/>
<use href="#d" x="977.5" y="374.5"/>
<use href="#d" x="424.5" y="375.5"/>
<use href="#d" x="900.5" y="375.5"/>
<use href="#d" x="465.5" y="376.5"/>
<use href="#d" x="703.5" y="376.5"/>
<use href="#d" x="543.5" y="377.5"/>
<use href="#d" x="1422.5" y="377.5"/>
<use href="#d" x="1433.5" y="377.5"/>
<use href="#d" x="1293.5" y="380.5"/>
<use href="#d" x="377.5" y="382.5"/>
<use href="#d" x="1334.5" y="382.5"/>
<use href="#d" x="118.5" y="384.5"/>
<use href="#d" x="957.5" y="384.5"/>
<use href="#d" x="1355.5" y="385.5"/>
<use href="#d" x="858.5" y="387.5"/>
<use href="#d" x="1443.5" y="387.5"/>
<use href="#d" x="998.5" y="389.5"/>
<use href="#d" x="1076.5" y="389.5"/>
<use href="#d" x="1345.5" y="391.5"/>
<use href="#d" x="444.5" y="393.5"/>
<use href="#d" x="682.5" y="393.5"/>
<use href="#d" x="1236.5" y="394.5"/>
<use href="#d" x="594.5" y="395.5"/>
<use href="#d" x="1205.5" y="395.5"/>
<use href="#d" x="1324.5" y="395.5"/>
<use href="#d" x="77.5" y="397.5"/>
<use href="#d" x="1029.5" y="397.5"/>
<use href="#d" x="1055.5" y="398.5"/>
<use href="#d" x="1215.5" y="398.5"/>
<use href="#d" x="910.5" y="399.5"/>
<use href="#d" x="1314.5" y="399.5"/>
<use href="#d" x="315.5" y="441.5"/>
<use href="#d" x="1334.5" y="442.5"/>
<use href="#d" x="77.5" y="443.5"/>
<use href="#d" x="703.5" y="443.5"/>
<use href="#d" x="186.5" y="444.5"/>
<use href="#d" x="553.5" y="444.5"/>
<use href="#d" x="1184.5" y="446.5"/>
<use href="#d" x="268.5" y="447.5"/>
<use href="#d" x="87.5" y="448.5"/>
<use href="#d" x="196.5" y="448.5"/>
<use href="#d" x="760.5" y="448.5"/>
<use href="#d" x="1195.5" y="453.5"/>
<use href="#d" x="1205.5" y="454.5"/>
<use href="#d" x="216.5" y="455.5"/>
<use href="#d" x="1345.5" y="458.5"/>
<use href="#d" x="1402.5" y="459.5"/>
<use href="#d" x="947.5" y="460.5"/>
<use href="#d" x="1392.5" y="461.5"/>
<use href="#d" x="346.5" y="462.5"/>
<use href="#d" x="1117.5" y="462.5"/>
<use href="#d" x="1246.5" y="462.5"/>
<use href="#d" x="1236.5" y="463.5"/>
<use href="#d" x="910.5" y="466.5"/>
<use href="#d" x="920.5" y="466.5"/>
<use href="#d" x="1029.5" y="467.5"/>
<use href="#d" x="1055.5" y="468.5"/>
<use href="#d" x="237.5" y="469.5"/>
<use href="#d" x="485.5" y="469.5"/>
<use href="#d" x="620.5" y="470.5"/>
<use href="#d" x="801.5" y="470.5"/>
<use href="#d" x="838.5" y="471.5"/>
<use href="#d" x="977.5" y="471.5"/>
<use href="#d" x="1381.5" y="471.5"/>
<use href="#d" x="424.5" y="472.5"/>
<use href="#d" x="739.5" y="473.5"/>
<use href="#d" x="781.5" y="474.5"/>
<use href="#d" x="1164.5" y="474.5"/>
<use href="#d" x="1086.5" y="475.5"/>
<use href="#d" x="967.5" y="476.5"/>
<use href="#d" x="356.5" y="477.5"/>
<use href="#d" x="672.5" y="477.5"/>
<use href="#d" x="988.5" y="477.5"/>
<use href="#d" x="118.5" y="480.5"/>
<use href="#d" x="573.5" y="480.5"/>
<use href="#d" x="1422.5" y="480.5"/>
<use href="#d" x="413.5" y="481.5"/>
<use href="#d" x="159.5" y="482.5"/>
<use href="#d" x="465.5" y="482.5"/>
<use href="#d" x="444.5" y="483.5"/>
<use href="#d" x="543.5" y="483.5"/>
<use href="#d" x="1453.5" y="483.5"/>
<use href="#d" x="848.5" y="484.5"/>
<use href="#d" x="869.5" y="484.5"/>
<use href="#d" x="1127.5" y="485.5"/>
<use href="#d" x="1226.5" y="486.5"/>
<use href="#d" x="1293.5" y="486.5"/>
<use href="#d" x="750.5" y="487.5"/>
<use href="#d" x="366.5" y="488.5"/>
<use href="#d" x="770.5" y="488.5"/>
<use href="#d" x="108.5" y="489.5"/>
<use href="#d" x="512.5" y="489.5"/>
<use href="#d" x="651.5" y="489.5"/>
<use href="#d" x="1314.5" y="489.5"/>
<use href="#d" x="294.5" y="490.5"/>
<use href="#d" x="1066.5" y="490.5"/>
<use href="#d" x="889.5" y="491.5"/>
<use href="#d" x="1076.5" y="491.5"/>
<use href="#d" x="325.5" y="492.5"/>
<use href="#d" x="641.5" y="492.5"/>
<use href="#d" x="247.5" y="494.5"/>
<use href="#d" x="454.5" y="494.5"/>
<use href="#d" x="1138.5" y="494.5"/>
<use href="#d" x="258.5" y="495.5"/>
<use href="#d" x="879.5" y="495.5"/>
<use href="#d" x="97.5" y="496.5"/>
<use href="#d" x="1443.5" y="496.5"/>
<use href="#d" x="475.5" y="497.5"/>
<use href="#d" x="1174.5" y="497.5"/>
<use href="#d" x="584.5" y="498.5"/>
<use href="#d" x="682.5" y="498.5"/>
<use href="#d" x="1324.5" y="498.5"/>
<use href="#d" x="791.5" y="500.5"/>
<use href="#d" x="998.5" y="500.5"/>
<use href="#d" x="1008.5" y="500.5"/>
<use href="#d" x="1096.5" y="500.5"/>
<use href="#d" x="1433.5" y="500.5"/>
<use href="#d" x="305.5" y="501.5"/>
<use href="#d" x="957.5" y="503.5"/>
<use href="#d" x="1215.5" y="503.5"/>
<use href="#d" x="900.5" y="505.5"/>
<use href="#d" x="377.5" y="506.5"/>
<use href="#d" x="1303.5" y="506.5"/>
<use href="#d" x="1019.5" y="507.5"/>
<use href="#d" x="1355.5" y="507.5"/>
<use href="#d" x="335.5" y="508.5"/>
<use href="#d" x="1273.5" y="508.5"/>
<use href="#d" x="1412.5" y="509.5"/>
<use href="#d" x="858.5" y="510.5"/>
<use href="#d" x="1464.5" y="510.5"/>
<use href="#d" x="563.5" y="511.5"/>
<use href="#d" x="631.5" y="511.5"/>
<use href="#d" x="1283.5" y="511.5"/>
<use href="#d" x="206.5" y="512.5"/>
<use href="#d" x="692.5" y="513.5"/>
<use href="#d" x="811.5" y="513.5"/>
<use href="#d" x="1107.5" y="514.5"/>
<use href="#d" x="594.5" y="515.5"/>
<use href="#d" x="227.5" y="516.5"/>
<use href="#d" x="403.5" y="516.5"/>
<use href="#d" x="729.5" y="516.5"/>
<use href="#d" x="128.5" y="517.5"/>
<use href="#d" x="139.5" y="517.5"/>
<use href="#d" x="532.5" y="517.5"/>
<use href="#d" x="662.5" y="518.5"/>
<use href="#d" x="434.5" y="519.5"/>
<use href="#d" x="522.5" y="519.5"/>
<use href="#d" x="149.5" y="520.5"/>
</g>
<text transform="scale(0.9577 1)" x="569.29 580.35 591.29 602.37 614.98 628.01 638.97 650.03 660.57 666.09 671.95 683.23 694.04 705.23 715.96 722.63 733.62 744.31 751.00 762.03 772.49 778.50 789.40 800.56 806.46 817.58 828.50 834.40 845.53 855.98 861.43 874.08 884.80 890.32 896.19 907.43 918.53 929.55 940.30 945.54 951.15 966.14 979.29" y="24.00" font-size="17.81" stroke="#000" stroke-width="0.027">0319+415  2021-09-30 12:56:53 UT  2738. MHz</text>
<text transform="scale(0.9890 1)" x="76.22 87.37 98.39 104.45 114.96 125.61 135.41 146.15 151.80" y="62.00" font-size="17.84" stroke="#000" stroke-width="0.043">antenna 1</text>
<text transform="scale(0.9808 1)" x="188.06 199.31 210.40 216.54 227.12 237.87 247.75 258.55 264.14" y="62.00" font-size="17.90" stroke="#000" stroke-width="0.075">antenna 2</text>
<text transform="scale(0.9712 1)" x="301.07 312.43 323.63 329.82 340.52 351.37 361.35 372.26 378.15" y="62.00" font-size="18.07" stroke="#000" stroke-width="0.120">antenna 3</text>
<text transform="scale(1.0003 1)" x="401.08 412.12 423.10 429.01 439.39 449.93 459.61 470.41 475.91" y="62.00" font-size="18.26" stroke="#000" stroke-width="0.045">antenna 4</text>
<text transform="scale(1.0131 1)" x="503.61 514.51 525.35 531.19 541.44 551.85 561.40 572.07 577.44" y="62.00" font-size="18.03">antenna 5</text>
<text transform="scale(1.0000 1)" x="618.19 629.23 640.21 646.13 656.51 667.05 676.73 687.53 693.04" y="62.00" font-size="18.26" stroke="#000" stroke-width="0.045">antenna 6</text>
<text transform="scale(1.0331 1)" x="703.90 714.59 725.26 730.95 741.00 751.20 760.56 771.11 776.32" y="62.00" font-size="17.98">antenna 7</text>
<text transform="scale(0.9528 1)" x="877.91 889.49 900.89 907.22 918.12 929.18 939.36 950.44 956.46" y="62.00" font-size="18.31" stroke="#000" stroke-width="0.111">antenna 8</text>
<text transform="scale(0.9873 1)" x="957.62 968.79 979.82 985.90 996.42 1007.10 1016.92 1027.66 1033.37" y="62.00" font-size="17.83" stroke="#000" stroke-width="0.106">antenna 9</text>
<text transform="scale(0.9849 1)" x="1064.48 1075.68 1086.75 1092.84 1103.38 1114.08 1123.92 1134.73 1140.38 1151.21" y="62.00" font-size="17.99" stroke="#000" stroke-width="0.018">antenna 10</text>
<text transform="scale(0.9969 1)" x="1160.99 1172.06 1183.01 1189.01 1199.43 1210.00 1219.72 1230.41 1235.97 1246.59" y="62.00" font-size="17.83" stroke="#000" stroke-width="0.017">antenna 11</text>
<text transform="scale(0.9935 1)" x="1273.68 1284.78 1295.77 1301.79 1312.24 1322.85 1332.60 1343.34 1348.91 1359.43" y="62.00" font-size="17.91" stroke="#000" stroke-width="0.013">antenna 12</text>
<text transform="scale(0.9873 1)" x="1392.07 1403.24 1414.28 1420.36 1430.88 1441.55 1451.37 1462.13 1467.78 1478.61" y="62.00" font-size="17.90" stroke="#000" stroke-width="0.048">antenna 13</text>
<text transform="translate(19.89 153.24) rotate(-90) scale(0.9716 1)" x="-0.49 9.29 18.98 23.30 32.68 41.05 50.17 57.81" y="0" font-size="14.32" stroke="#000" stroke-width="0.022">XX Phase</text>
<text transform="scale(0.9700 1)" x="42.53 51.58 56.31" y="94.00" font-size="14.69">2.5</text>
<text transform="scale(0.9700 1)" x="43.18 52.04 56.83" y="125.98" font-size="14.72" stroke="#000" stroke-width="0.075">0.0</text>
<text transform="scale(0.9577 1)" x="32.10 42.79 51.88 56.74" y="157.00" font-size="14.32" stroke="#000" stroke-width="0.075">−2.5</text>
<text transform="translate(19.89 271.73) rotate(-90) scale(0.9602 1)" x="-1.68 7.14 16.46 20.75 30.27 38.73 47.97 55.69" y="0" font-size="14.73" stroke="#000" stroke-width="0.032">YY Phase</text>
<text transform="scale(0.9700 1)" x="42.53 51.58 56.31" y="215.00" font-size="14.69">2.5</text>
<text transform="scale(0.9700 1)" x="43.18 52.04 56.83" y="245.98" font-size="14.72" stroke="#000" stroke-width="0.075">0.0</text>
<text transform="scale(0.9577 1)" x="32.10 42.79 51.88 56.74" y="278.00" font-size="14.32" stroke="#000" stroke-width="0.075">−2.5</text>
<text transform="translate(19.89 393.24) rotate(-90) scale(0.9439 1)" x="-0.70 8.85 18.44 22.69 32.39 40.99 50.41 58.26" y="0" font-size="15.30">XY Phase</text>
<text transform="scale(0.9700 1)" x="42.53 51.58 56.31" y="335.00" font-size="14.69">2.5</text>
<text transform="scale(0.9700 1)" x="43.18 52.04 56.83" y="366.98" font-size="14.72" stroke="#000" stroke-width="0.075">0.0</text>
<text transform="scale(0.9577 1)" x="32.10 42.79 51.88 56.74" y="398.00" font-size="14.32" stroke="#000" stroke-width="0.075">−2.5</text>
<text transform="translate(19.89 513.73) rotate(-90) scale(0.9781 1)" x="-1.65 7.53 17.21 21.43 30.77 39.08 48.15 55.73" y="0" font-size="14.43" stroke="#000" stroke-width="0.061">YX Phase</text>
<text transform="scale(0.9700 1)" x="42.53 51.58 56.31" y="456.00" font-size="14.69">2.5</text>
<text transform="scale(0.9700 1)" x="43.18 52.04 56.83" y="486.98" font-size="14.72" stroke="#000" stroke-width="0.075">0.0</text>
<text transform="scale(0.9577 1)" x="32.10 42.79 51.88 56.74" y="519.00" font-size="14.32" stroke="#000" stroke-width="0.075">−2.5</text>
<text transform="scale(0.9829 1)" x="64.49 73.29 77.96 86.75" y="553.00" font-size="14.90" stroke="#000" stroke-width="0.075">0.62</text>
<text transform="scale(1.0300 1)" x="107.67 116.08 120.52 129.09" y="552.98" font-size="14.32" stroke="#000" stroke-width="0.022">0.64</text>
<text transform="scale(0.9779 1)" x="176.80 185.61 190.33 199.17" y="553.00" font-size="14.72" stroke="#000" stroke-width="0.027">0.62</text>
<text transform="scale(1.0300 1)" x="213.49 221.90 226.34 234.91" y="552.98" font-size="14.32" stroke="#000" stroke-width="0.022">0.64</text>
<text transform="scale(0.9591 1)" x="293.39 302.42 307.19 316.21" y="553.00" font-size="15.31" stroke="#000" stroke-width="0.075">0.62</text>
<text transform="scale(1.0260 1)" x="320.07 328.58 332.97 341.58" y="552.98" font-size="14.87" stroke="#000" stroke-width="0.022">0.64</text>
<text transform="scale(0.9820 1)" x="397.03 405.81 410.51 419.31" y="553.00" font-size="14.72" stroke="#000" stroke-width="0.027">0.62</text>
<text transform="scale(1.0300 1)" x="425.14 433.55 437.99 446.56" y="552.98" font-size="14.32" stroke="#000" stroke-width="0.022">0.64</text>
<text transform="scale(0.9755 1)" x="511.43 520.26 525.00 533.86" y="553.00" font-size="14.72" stroke="#000" stroke-width="0.027">0.62</text>
<text transform="scale(1.0232 1)" x="533.03 541.54 545.97 554.60" y="552.98" font-size="14.72" stroke="#000" stroke-width="0.027">0.64</text>
<text transform="scale(0.9955 1)" x="610.13 618.82 623.43 632.11" y="553.00" font-size="14.72" stroke="#000" stroke-width="0.075">0.62</text>
<text transform="scale(1.0257 1)" x="637.99 646.46 650.89 659.50" y="552.98" font-size="14.58" stroke="#000" stroke-width="0.027">0.64</text>
<text transform="scale(0.9955 1)" x="719.62 728.31 732.92 741.60" y="553.00" font-size="14.72" stroke="#000" stroke-width="0.075">0.62</text>
<text transform="scale(1.0232 1)" x="746.56 755.02 759.50 768.13" y="552.98" font-size="14.32" stroke="#000" stroke-width="0.019">0.64</text>
<text transform="scale(0.9829 1)" x="838.73 847.53 852.20 860.99" y="553.00" font-size="14.90" stroke="#000" stroke-width="0.075">0.62</text>
<text transform="scale(1.0300 1)" x="846.50 854.91 859.35 867.92" y="552.98" font-size="14.32" stroke="#000" stroke-width="0.022">0.64</text>
<text transform="scale(0.9897 1)" x="943.12 951.87 956.49 965.23" y="553.00" font-size="14.90" stroke="#000" stroke-width="0.075">0.62</text>
<text transform="scale(1.0300 1)" x="952.33 960.74 965.18 973.75" y="552.98" font-size="14.32" stroke="#000" stroke-width="0.022">0.64</text>
<text transform="scale(0.9755 1)" x="1069.08 1077.91 1082.65 1091.51" y="553.00" font-size="14.72" stroke="#000" stroke-width="0.027">0.62</text>
<text transform="scale(1.0300 1)" x="1058.15 1066.56 1071.00 1079.57" y="552.98" font-size="14.32" stroke="#000" stroke-width="0.022">0.64</text>
<text transform="scale(0.9869 1)" x="1165.66 1174.39 1179.07 1187.83" y="553.00" font-size="14.61" stroke="#000" stroke-width="0.075">0.62</text>
<text transform="scale(0.9990 1)" x="1198.93 1207.50 1212.19 1221.02" y="552.98" font-size="13.98" stroke="#000" stroke-width="0.027">0.64</text>
<text transform="scale(0.9820 1)" x="1282.73 1291.52 1296.21 1305.01" y="553.00" font-size="14.78" stroke="#000" stroke-width="0.030">0.62</text>
<text transform="scale(1.0235 1)" x="1276.40 1284.91 1289.34 1297.96" y="552.98" font-size="14.72" stroke="#000" stroke-width="0.027">0.64</text>
<text transform="scale(0.9469 1)" x="1445.13 1454.23 1459.11 1468.24" y="553.00" font-size="15.22" stroke="#000" stroke-width="0.075">0.62</text>
<text transform="scale(1.0235 1)" x="1382.90 1391.41 1395.83 1404.46" y="552.98" font-size="14.72" stroke="#000" stroke-width="0.027">0.64</text>
<text transform="scale(0.9700 1)" x="730.85 741.85 750.73 760.18 765.33 769.78 780.07 789.02 798.13 802.05" y="573.96" font-size="14.97" stroke="#000" stroke-width="0.030">Hour Angle</text>
</svg></body></html>
